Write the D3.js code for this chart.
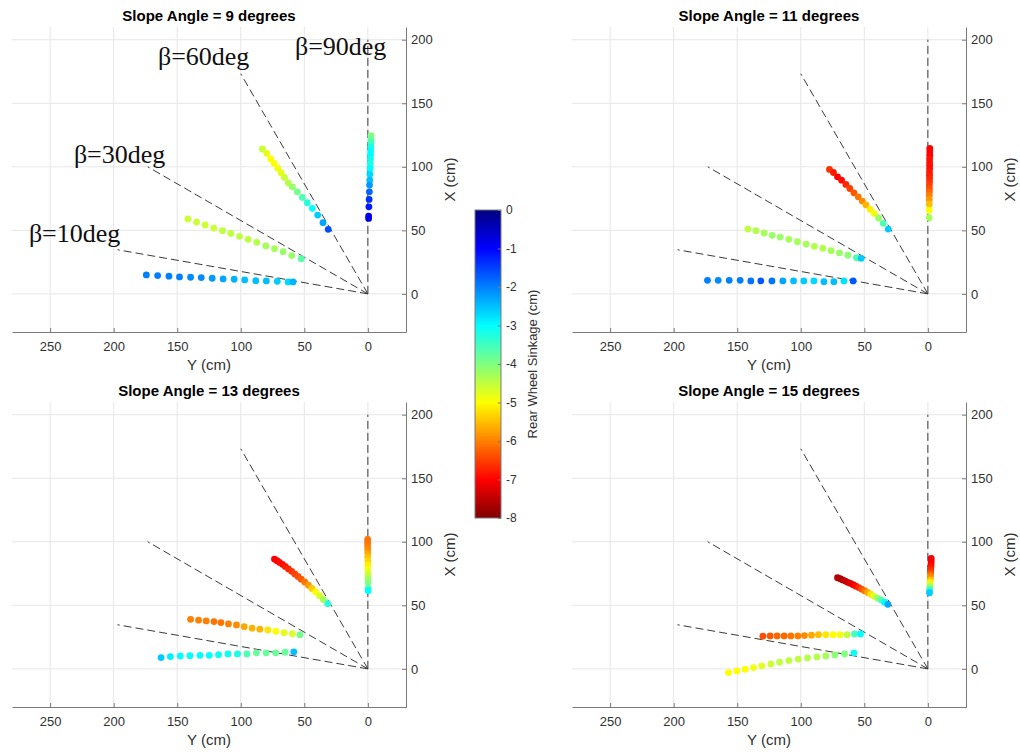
<!DOCTYPE html>
<html><head><meta charset="utf-8">
<script src="https://cdn.jsdelivr.net/npm/d3@7"></script>
<style>body{margin:0;background:#fff}svg{display:block}</style>
</head><body>
<svg id="chart" width="1020" height="752"></svg>
<script>
// ---------------- DATA ----------------
const panelTitles = ["Slope Angle = 9 degrees","Slope Angle = 11 degrees","Slope Angle = 13 degrees","Slope Angle = 15 degrees"];
const betaAngles = [10, 30, 60, 90];
const betaLabels = ["β=10deg","β=30deg","β=60deg","β=90deg"];
const betaLabelPos = [[266.7,40.9],[231.3,103.0],[165.2,180.2],[57.4,188.0]]; // [Y, X] in cm
const rayLength = 200;
const yAxisTicks = [250,200,150,100,50,0];
const xAxisTicks = [0,50,100,150,200];
const colorbarTicks = [0,-1,-2,-3,-4,-5,-6,-7,-8];
const yDomain = [280,-30];
const xDomain = [-30,210];
const sinkDomain = [0,-8];

// each point: [Y (cm), X (cm), rear wheel sinkage (cm)]
const slope9_beta10 = [[174.3,14.9,-2.0],[165.4,14.4,-2.0],[156.5,13.9,-2.0],[148.2,13.3,-2.0],[139.5,13.1,-2.1],[131.1,12.8,-2.1],[122.5,12.3,-2.2],[113.9,11.8,-2.3],[105.2,11.5,-2.4],[96.9,11.0,-2.5],[88.2,10.4,-2.5],[79.9,10.2,-2.5],[71.3,9.9,-2.6],[62.8,9.4,-2.7],[58.9,9.4,-2.4]];
const slope9_beta30 = [[141.6,58.9,-4.6],[134.8,56.5,-4.6],[128.0,54.2,-4.6],[121.2,51.8,-4.6],[114.4,49.7,-4.5],[107.8,47.6,-4.5],[101.0,45.3,-4.5],[94.2,42.9,-4.5],[87.4,40.6,-4.4],[80.3,37.7,-4.3],[73.5,35.6,-4.3],[66.7,33.2,-4.2],[59.9,30.1,-4.2],[52.4,27.7,-3.7]];
const slope9_beta60 = [[83.0,114.0,-4.6],[79.5,110.5,-4.8],[76.4,106.3,-5.0],[73.8,102.7,-5.0],[70.9,98.9,-4.9],[68.3,95.3,-4.8],[65.7,91.6,-4.6],[62.6,87.4,-4.4],[59.5,84.2,-4.2],[55.5,80.3,-3.9],[51.6,75.9,-3.6],[47.7,71.7,-3.3],[43.7,67.3,-3.0],[39.5,62.0,-2.6],[35.3,56.0,-2.3],[31.2,50.8,-1.6]];
const slope9_beta90 = [[-2.5,124.6,-4.0],[-2.5,121.4,-3.8],[-2.4,118.8,-3.5],[-2.3,115.6,-3.2],[-2.2,112.5,-3.0],[-2.1,109.3,-3.0],[-2.0,106.2,-3.1],[-1.9,102.6,-3.2],[-1.8,98.7,-3.0],[-1.6,94.2,-2.7],[-1.5,89.5,-2.5],[-1.3,85.6,-2.2],[-1.2,80.3,-1.8],[-1.0,74.3,-1.4],[-0.8,68.5,-1.2],[-0.6,61.2,-0.9],[-0.6,59.4,-0.8]];

const slope11_beta10 = [[173.4,10.7,-2.0],[165.0,10.7,-2.1],[156.3,10.7,-2.0],[147.7,10.7,-2.0],[139.3,10.2,-1.9],[131.4,10.2,-1.7],[122.7,10.2,-1.9],[114.1,10.2,-2.3],[105.7,10.2,-2.5],[97.6,10.2,-2.6],[89.7,10.2,-2.7],[81.8,9.6,-2.5],[74.0,9.6,-2.5],[66.1,10.2,-2.8],[58.8,10.2,-1.7]];
const slope11_beta30 = [[141.6,51.0,-4.5],[135.3,49.7,-4.4],[128.8,47.9,-4.3],[122.5,46.1,-4.2],[116.2,44.7,-4.2],[109.4,42.9,-4.3],[102.6,41.0,-4.3],[95.8,39.2,-4.3],[89.3,37.4,-4.4],[82.6,35.9,-4.4],[76.1,34.0,-4.3],[69.5,32.2,-4.2],[62.9,30.4,-4.1],[56.2,28.5,-3.6],[52.5,28.0,-2.6]];
const slope11_beta60 = [[77.4,97.9,-6.6],[74.3,95.5,-6.8],[71.1,92.1,-7.0],[67.9,89.5,-6.9],[64.5,86.1,-6.7],[61.4,82.9,-6.5],[58.2,79.5,-6.3],[54.8,76.4,-6.1],[51.6,73.0,-5.9],[48.7,70.1,-5.6],[45.4,66.5,-5.1],[42.2,63.3,-4.9],[38.8,59.7,-4.2],[35.1,55.5,-3.6],[31.2,51.0,-2.6]];
const slope11_beta90 = [[-1.5,114.4,-7.0],[-1.5,111.7,-7.0],[-1.5,109.1,-7.0],[-1.4,106.5,-6.9],[-1.4,103.8,-6.9],[-1.4,101.2,-6.9],[-1.4,98.6,-6.9],[-1.3,96.0,-6.8],[-1.3,93.4,-6.8],[-1.3,90.8,-6.7],[-1.3,88.2,-6.6],[-1.2,85.6,-6.5],[-1.2,83.0,-6.4],[-1.2,80.4,-6.2],[-1.1,77.7,-6.0],[-1.1,74.3,-5.8],[-1.1,70.6,-5.5],[-1.0,65.9,-5.0],[-1.0,59.9,-4.3]];

const slope13_beta10 = [[162.7,8.9,-2.6],[155.4,9.7,-2.9],[147.6,10.2,-3.0],[140.0,10.4,-3.0],[132.1,10.7,-3.0],[124.8,10.7,-3.0],[117.5,11.2,-3.1],[110.1,11.8,-3.1],[102.6,11.8,-3.2],[95.2,11.8,-3.6],[87.7,12.6,-3.8],[80.1,12.6,-3.8],[72.5,12.6,-3.8],[65.1,13.1,-3.8],[58.3,13.4,-2.5]];
const slope13_beta30 = [[139.5,39.0,-6.0],[133.2,38.3,-6.0],[127.2,37.7,-6.0],[121.1,37.2,-6.1],[115.6,36.4,-6.1],[109.7,35.4,-6.0],[103.4,34.6,-5.9],[97.3,33.2,-5.7],[91.1,32.0,-5.6],[85.0,31.2,-5.6],[78.7,30.6,-5.2],[72.4,29.6,-5.0],[65.9,28.5,-4.8],[59.4,27.7,-4.7],[53.4,26.9,-3.9]];
const slope13_beta60 = [[73.5,86.4,-7.0],[71.5,85.1,-7.0],[69.5,83.8,-6.9],[67.2,82.3,-6.9],[65.0,80.6,-6.8],[62.5,78.6,-6.7],[60.0,76.8,-6.6],[57.5,74.7,-6.5],[55.0,72.7,-6.4],[52.5,70.6,-6.3],[49.7,68.4,-6.1],[46.8,65.8,-5.8],[44.0,63.3,-5.4],[41.0,60.5,-5.0],[38.0,57.6,-4.7],[35.0,54.6,-4.3],[31.6,51.3,-3.3]];
const slope13_beta90 = [[0.2,101.9,-6.1],[0.2,99.2,-6.1],[0.2,96.6,-6.0],[0.1,94.0,-5.9],[0.1,91.3,-5.7],[0.1,88.2,-5.5],[0.0,85.1,-5.3],[0.0,81.7,-5.1],[0.0,78.3,-4.9],[-0.1,74.6,-4.6],[-0.1,71.2,-4.3],[-0.1,67.8,-4.0],[-0.2,63.4,-3.6],[-0.2,61.5,-3.0]];

const slope15_beta10 = [[156.9,-2.9,-5.0],[150.3,-1.6,-5.0],[143.7,-0.2,-5.0],[137.2,1.0,-4.9],[130.6,2.4,-4.8],[123.5,3.9,-4.6],[116.7,5.3,-4.5],[109.4,6.5,-4.5],[102.0,7.6,-4.5],[94.7,8.6,-4.4],[87.3,9.4,-4.4],[80.3,10.2,-4.3],[73.2,11.0,-4.1],[65.6,11.8,-4.0],[58.2,12.6,-3.1]];
const slope15_beta30 = [[129.8,25.7,-6.4],[124.1,25.9,-6.3],[118.6,25.9,-6.2],[113.1,25.9,-6.2],[107.8,25.9,-6.1],[102.3,25.9,-6.0],[97.1,26.2,-5.9],[91.6,26.5,-5.7],[86.1,26.9,-5.5],[80.3,26.9,-5.2],[74.5,26.9,-5.0],[69.0,26.9,-4.9],[63.5,26.9,-4.5],[57.7,27.5,-3.5],[53.0,27.5,-3.0]];
const slope15_beta60 = [[71.1,71.7,-7.6],[69.0,70.9,-7.6],[67.0,70.0,-7.6],[65.0,69.1,-7.5],[63.0,68.1,-7.4],[61.0,67.3,-7.3],[58.8,66.2,-7.1],[56.6,65.1,-6.9],[54.4,64.0,-6.7],[52.2,62.8,-6.4],[49.8,61.5,-6.1],[47.4,60.1,-5.7],[45.0,58.8,-5.2],[42.5,57.3,-4.7],[39.8,55.7,-4.2],[37.0,54.3,-3.7],[34.2,52.5,-3.0],[31.5,50.8,-2.3]];
const slope15_beta90 = [[-2.6,87.0,-7.1],[-2.6,84.8,-7.1],[-2.5,82.7,-7.0],[-2.4,80.7,-6.9],[-2.3,78.6,-6.7],[-2.2,76.4,-6.5],[-2.1,74.4,-6.2],[-2.0,72.3,-5.9],[-1.9,70.1,-5.5],[-1.8,68.1,-5.1],[-1.7,66.0,-4.6],[-1.5,63.9,-4.0],[-1.4,61.8,-3.3],[-1.3,59.9,-2.6]];

const panelSeries = [
  [slope9_beta10, slope9_beta30, slope9_beta60, slope9_beta90],
  [slope11_beta10, slope11_beta30, slope11_beta60, slope11_beta90],
  [slope13_beta10, slope13_beta30, slope13_beta60, slope13_beta90],
  [slope15_beta10, slope15_beta30, slope15_beta60, slope15_beta90]
];

// ---------------- LAYOUT ----------------
const svg = d3.select("#chart");
const FONT = "'Liberation Sans', Arial, Helvetica, sans-serif";
const axisColor = "#7a7a7a", gridColor = "#e6e6e6", textColor = "#303030";
const panelBoxes = [
  {x0:12, x1:406, y0:27, y1:332},
  {x0:572, x1:966, y0:27, y1:332},
  {x0:12, x1:406, y0:402, y1:707},
  {x0:572, x1:966, y0:402, y1:707}
];

function jet(t){
  const c = v => Math.max(0, Math.min(1, v));
  return d3.rgb(255*c(1.5-Math.abs(4*t-3)), 255*c(1.5-Math.abs(4*t-2)), 255*c(1.5-Math.abs(4*t-1))).toString();
}
const color = d3.scaleSequential(jet).domain(sinkDomain);

panelBoxes.forEach((b, i) => {
  const g = svg.append("g");
  const sy = d3.scaleLinear().domain(yDomain).range([b.x0, b.x1]);
  const sx = d3.scaleLinear().domain(xDomain).range([b.y1, b.y0]);

  // grid
  g.append("g").selectAll("line").data(yAxisTicks).join("line")
    .attr("x1", d => sy(d)).attr("x2", d => sy(d)).attr("y1", b.y0).attr("y2", b.y1)
    .attr("stroke", gridColor).attr("stroke-width", 1);
  g.append("g").selectAll("line").data(xAxisTicks).join("line")
    .attr("x1", b.x0).attr("x2", b.x1).attr("y1", d => sx(d)).attr("y2", d => sx(d))
    .attr("stroke", gridColor).attr("stroke-width", 1);

  // rays
  g.append("g").selectAll("line").data(betaAngles).join("line")
    .attr("x1", sy(0)).attr("y1", sx(0))
    .attr("x2", d => sy(rayLength*Math.cos(d*Math.PI/180)))
    .attr("y2", d => sx(rayLength*Math.sin(d*Math.PI/180)))
    .attr("stroke", "#3a3a3a").attr("stroke-width", 1).attr("stroke-dasharray", "8,4");

  // points
  panelSeries[i].forEach(series => {
    g.append("g").selectAll("circle").data(series).join("circle")
      .attr("cx", d => sy(d[0])).attr("cy", d => sx(d[1])).attr("r", 3.4)
      .attr("fill", d => color(d[2]));
  });

  // axes
  const ax = g.append("g").attr("transform", `translate(0,${b.y1})`)
    .call(d3.axisBottom(sy).tickValues(yAxisTicks).tickSizeInner(-4).tickSizeOuter(0).tickPadding(10).tickFormat(d => String(d)));
  const ay = g.append("g").attr("transform", `translate(${b.x1},0)`)
    .call(d3.axisRight(sx).tickValues(xAxisTicks).tickSizeInner(-4).tickSizeOuter(0).tickPadding(5).tickFormat(d => String(d)));
  [ax, ay].forEach(a => {
    a.select(".domain").attr("stroke", axisColor);
    a.selectAll(".tick line").attr("stroke", axisColor);
    a.selectAll(".tick text").attr("fill", textColor).style("font-family", FONT).style("font-size", "13px");
  });

  // labels
  g.append("text").attr("x", (b.x0+b.x1)/2).attr("y", b.y1+38).attr("text-anchor", "middle")
    .style("font-family", FONT).style("font-size", "15px").attr("fill", textColor).text("Y (cm)");
  g.append("text").attr("transform", `translate(${b.x1+49},${(b.y0+b.y1)/2}) rotate(-90)`).attr("text-anchor", "middle")
    .style("font-family", FONT).style("font-size", "15px").attr("fill", textColor).text("X (cm)");
  g.append("text").attr("x", (b.x0+b.x1)/2).attr("y", b.y0-6).attr("text-anchor", "middle")
    .style("font-family", FONT).style("font-size", "15px").style("font-weight", "bold").attr("fill", "#000").text(panelTitles[i]);

  if (i === 0) {
    g.append("g").selectAll("text").data(betaLabels).join("text")
      .attr("x", (d, k) => sy(betaLabelPos[k][0])).attr("y", (d, k) => sx(betaLabelPos[k][1]))
      .style("font-family", "'Liberation Serif', 'Times New Roman', serif").style("font-size", "26px")
      .attr("fill", "#111").text(d => d);
  }
});

// ---------------- COLORBAR ----------------
const cb = {x0:475, x1:501, y0:210, y1:518};
const cbScale = d3.scaleLinear().domain(sinkDomain).range([cb.y0, cb.y1]);
const defs = svg.append("defs");
const grad = defs.append("linearGradient").attr("id", "jetgrad").attr("x1", 0).attr("y1", 0).attr("x2", 0).attr("y2", 1);
grad.selectAll("stop").data(d3.range(0, 1.0001, 0.025)).join("stop")
  .attr("offset", d => d).attr("stop-color", d => color(sinkDomain[0] + d*(sinkDomain[1]-sinkDomain[0])));
svg.append("rect").attr("x", cb.x0).attr("y", cb.y0).attr("width", cb.x1-cb.x0).attr("height", cb.y1-cb.y0)
  .attr("fill", "url(#jetgrad)").attr("stroke", axisColor).attr("stroke-width", 1);
const cbAxis = svg.append("g").attr("transform", `translate(${cb.x1},0)`)
  .call(d3.axisRight(cbScale).tickValues(colorbarTicks).tickSizeInner(-3).tickSizeOuter(0).tickPadding(5).tickFormat(d => String(d)));
cbAxis.select(".domain").remove();
cbAxis.selectAll(".tick line").attr("stroke", axisColor);
cbAxis.selectAll(".tick text").attr("fill", textColor).style("font-family", FONT).style("font-size", "12px");
svg.append("text").attr("transform", `translate(${537},${(cb.y0+cb.y1)/2}) rotate(-90)`).attr("text-anchor", "middle")
  .style("font-family", FONT).style("font-size", "13px").attr("fill", textColor).text("Rear Wheel Sinkage (cm)");
</script>
</body></html>
